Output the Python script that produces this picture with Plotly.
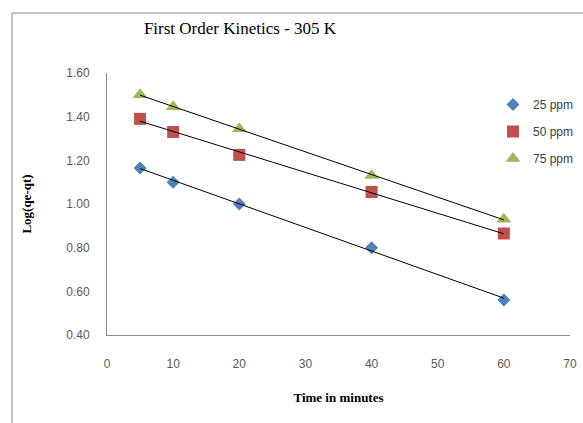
import numpy as np
import plotly.graph_objects as go

time_min = [5, 10, 20, 40, 60]
ppm25 = [1.165, 1.10, 1.00, 0.80, 0.56]
ppm50 = [1.39, 1.33, 1.225, 1.055, 0.865]
ppm75 = [1.50, 1.445, 1.345, 1.13, 0.93]
series_names = ["25 ppm", "50 ppm", "75 ppm"]
colors = ["#4F81BD", "#C0504D", "#9BBB59"]
symbols = ["diamond", "square", "triangle-up"]
sizes = [10, 12, 13]

fig = go.Figure()
for i, (name, ys) in enumerate(zip(series_names, [ppm25, ppm50, ppm75])):
    fig.add_trace(go.Scatter(
        x=time_min, y=ys, mode="markers", name=name,
        legendgroup=name,
        marker=dict(symbol=symbols[i], size=sizes[i], color=colors[i]),
    ))
for ys in [ppm25, ppm50, ppm75]:
    k, b = np.polyfit(time_min, ys, 1)
    xs = [min(time_min), max(time_min)]
    fig.add_trace(go.Scatter(
        x=xs, y=[k * v + b for v in xs], mode="lines",
        line=dict(color="black", width=1), showlegend=False, hoverinfo="skip",
    ))

W, H = 583, 423
l, r, t, b = 107, 13, 73, 88
pw, ph = W - l - r, H - t - b

fig.update_layout(
    width=W, height=H,
    margin=dict(l=l, r=r, t=t, b=b, autoexpand=False),
    paper_bgcolor="white", plot_bgcolor="white",
    title=dict(text="First Order Kinetics - 305 K",
               font=dict(family="Liberation Serif", size=17, color="black"),
               x=(240 - l) / pw, xref="paper", xanchor="center",
               y=1 - 28 / H, yanchor="middle"),
    xaxis=dict(range=[0, 70], dtick=10, tick0=0, showgrid=False, zeroline=False,
               showline=True, linecolor="#8c8c8c", linewidth=1, ticks="",
               ticklabelstandoff=18,
               tickfont=dict(family="Liberation Sans", size=12, color="#595959"),
               title=dict(text="<b>Time in minutes</b>", standoff=22,
                          font=dict(family="Liberation Serif", size=13, color="black"))),
    yaxis=dict(range=[0.4, 1.6], dtick=0.2, tick0=0.4, tickformat=".2f",
               showgrid=False, zeroline=False,
               showline=True, linecolor="#8c8c8c", linewidth=1, ticks="",
               ticklabelstandoff=14,
               tickfont=dict(family="Liberation Sans", size=12, color="#595959"),
               title=dict(text="<b>Log(qe-qt)</b>", standoff=31,
                          font=dict(family="Liberation Serif", size=13, color="black"))),
    legend=dict(xref="container", yref="container",
                x=493 / W, y=1 - 90 / H, xanchor="left", yanchor="top",
                bgcolor="rgba(0,0,0,0)", tracegroupgap=8, traceorder="grouped",
                font=dict(family="Liberation Sans", size=12, color="#404040"),
                itemwidth=30),
    showlegend=True,
)
# outer chart border
fig.add_shape(type="rect", xref="paper", yref="paper",
              x0=(12 - l) / pw, y0=-2, x1=2, y1=(H - b - 13) / ph,
              line=dict(color="#8c8c8c", width=1), fillcolor="rgba(0,0,0,0)",
              layer="below")

fig.write_html("out.html")
